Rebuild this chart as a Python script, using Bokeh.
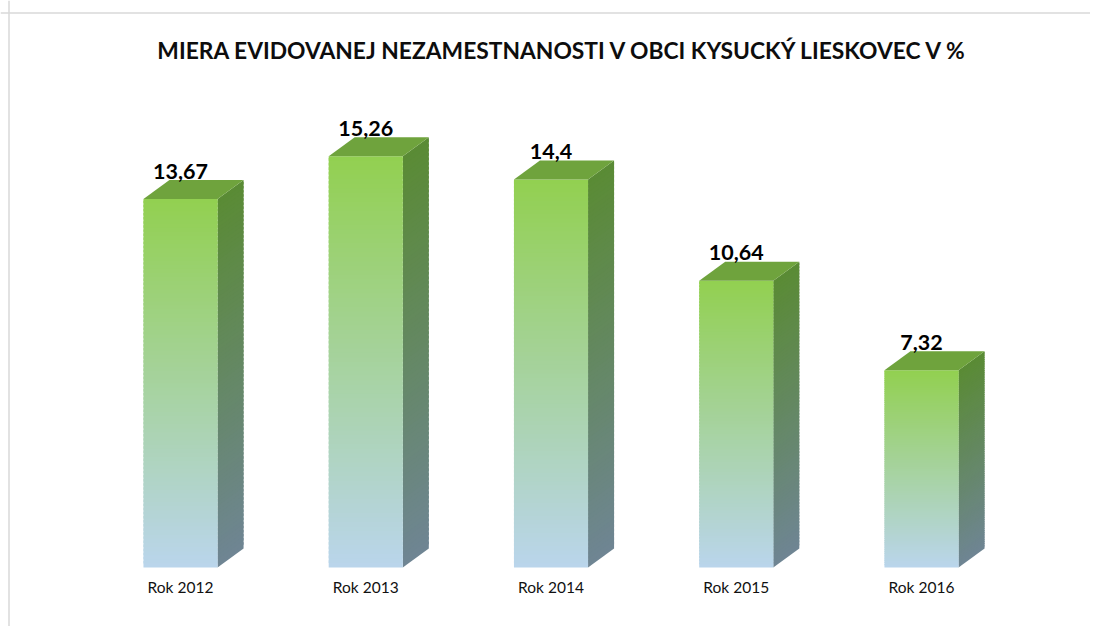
from bokeh.plotting import figure
from bokeh.models import ColumnDataSource, Range1d, Span
from bokeh.core.properties import value
from bokeh.embed import file_html
from bokeh.resources import INLINE

# ---- data ----
categories = ["Rok 2012", "Rok 2013", "Rok 2014", "Rok 2015", "Rok 2016"]
values = [13.67, 15.26, 14.4, 10.64, 7.32]
labels = ["13,67", "15,26", "14,4", "10,64", "7,32"]
title_text = "MIERA EVIDOVANEJ NEZAMESTNANOSTI V OBCI KYSUCKÝ LIESKOVEC V %"

# ---- layout / style ----
W, H = 1090, 626
ORIGIN = 0         # picture offset of the figure
PX_X = 185.25      # px per category
PX_Y = 26.95       # px per unit
X0_PAGE = 180.0    # picture x of first category centre
Y0_PAGE = 567.0    # picture y of value 0
HALF_W = 0.2
DX = 26 / PX_X
DY = 19 / PX_Y
N = 90

def hex2rgb(h):
    h = h.lstrip("#")
    return tuple(int(h[i:i + 2], 16) for i in (0, 2, 4))

def mix(c1, c2, t):
    a, b = hex2rgb(c1), hex2rgb(c2)
    return "#%02x%02x%02x" % tuple(round(a[k] + (b[k] - a[k]) * t) for k in range(3))

FRONT_TOP, FRONT_BOT = "#92d050", "#bad5ec"
SIDE_TOP, SIDE_BOT = "#5a8b34", "#6f8594"
TOP_FACE = "#6fa33d"

x_start = (ORIGIN - X0_PAGE) / PX_X
x_end = (ORIGIN + W - X0_PAGE) / PX_X
y_end = (Y0_PAGE - ORIGIN) / PX_Y
y_start = (Y0_PAGE - (ORIGIN + H)) / PX_Y

p = figure(width=W, height=H, output_backend="svg", toolbar_location=None,
           x_range=Range1d(x_start, x_end), y_range=Range1d(y_start, y_end),
           min_border=0, min_border_left=0, min_border_right=0,
           min_border_top=0, min_border_bottom=0)
p.axis.visible = False
p.grid.visible = False
p.outline_line_color = None
p.background_fill_color = "white"
p.border_fill_color = "white"

fl, fr, fb, ft, fc = [], [], [], [], []
sx, sy, sc = [], [], []
tx, ty = [], []
for i, v in enumerate(values):
    xl, xr = i - HALF_W, i + HALF_W
    step = v / N
    for k in range(N):
        y0 = step * k
        y1 = step * (k + 1)
        t = 1 - (k + 0.5) / N  # 0 at top, 1 at bottom
        ov = 0.6 * step if k < N - 1 else 0
        fl.append(xl); fr.append(xr); fb.append(y0); ft.append(y1 + ov)
        fc.append(mix(FRONT_TOP, FRONT_BOT, t))
        sx.append([xr, xr + DX, xr + DX, xr])
        sy.append([y0, y0 + DY, y1 + ov + DY, y1 + ov])
        sc.append(mix(SIDE_TOP, SIDE_BOT, t))
    tx.append([xl, xr, xr + DX, xl + DX])
    ty.append([v, v, v + DY, v + DY])

p.patches(xs="xs", ys="ys", fill_color="c", line_color=None,
          source=ColumnDataSource(dict(xs=sx, ys=sy, c=sc)))
p.quad(left="l", right="r", bottom="b", top="t", fill_color="c", line_color=None,
       source=ColumnDataSource(dict(l=fl, r=fr, b=fb, t=ft, c=fc)))
p.patches(xs="xs", ys="ys", fill_color=TOP_FACE, line_color=None,
          source=ColumnDataSource(dict(xs=tx, ys=ty)))

idx = list(range(len(values)))
p.text(x=idx, y=[v + 28 / PX_Y for v in values], text=labels,
       text_font=value("Lato"), text_font_style="bold", text_font_size="21.5px",
       text_color="#000000", text_align="center", text_baseline="alphabetic")

p.text(x=idx, y=[-19 / PX_Y] * len(idx), text=categories,
       text_font=value("Lato"), text_font_size="15.5px", text_color="#111111",
       text_align="center", text_baseline="middle")

p.text(x=[(563 - X0_PAGE) / PX_X], y=[(Y0_PAGE - 49) / PX_Y], text=[title_text],
       text_font=value("Lato"), text_font_style="bold", text_font_size="22.8px",
       text_color="#0d0d0d", text_align="center", text_baseline="middle")

p.add_layout(Span(location=(Y0_PAGE - 12.5) / PX_Y, dimension="width",
                  line_color="#d9d9d9", line_width=1.5))
p.add_layout(Span(location=(8.5 - X0_PAGE) / PX_X, dimension="height",
                  line_color="#d9d9d9", line_width=1.5))

open("out.html", "w").write(file_html(p, INLINE))
